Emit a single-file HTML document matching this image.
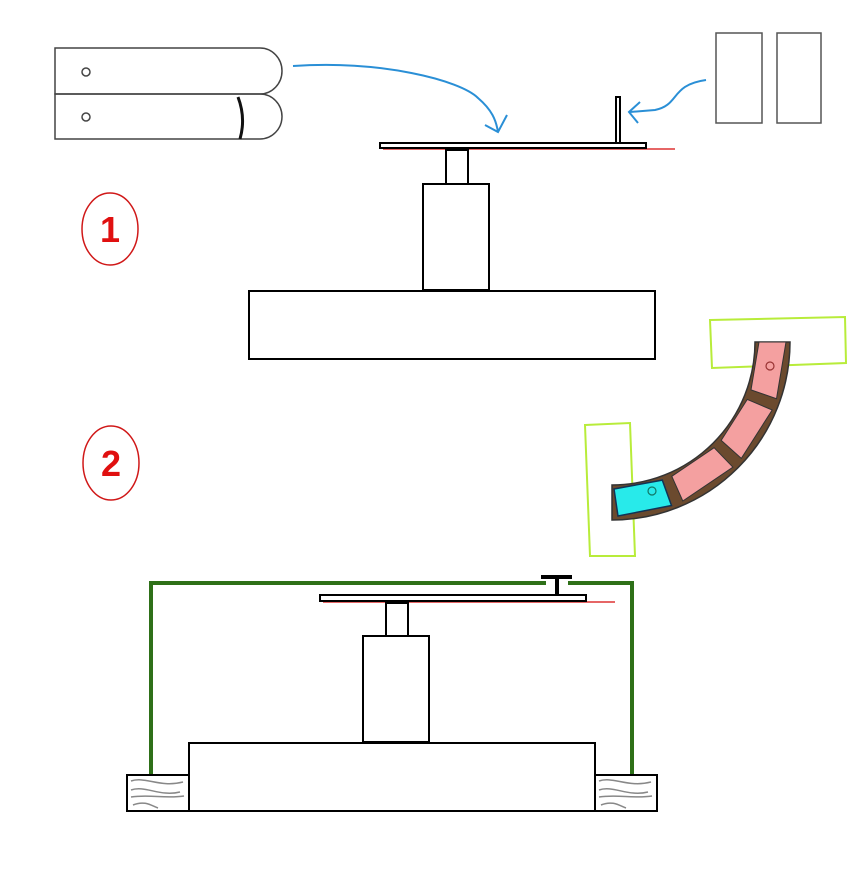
<!DOCTYPE html>
<html><head><style>html,body{margin:0;padding:0;background:#fff}svg{display:block}</style></head>
<body>
<svg width="854" height="869" viewBox="0 0 854 869" xmlns="http://www.w3.org/2000/svg">
<g fill="none" stroke="#444" stroke-width="1.5">
<path d="M55,48 H260 A22,23 0 0 1 260,94 H55 Z"/>
<path d="M55,94 H260 A22,22.5 0 0 1 260,139 H55 Z"/>
<circle cx="86" cy="72" r="4"/><circle cx="86" cy="117" r="4"/>
</g>
<path d="M238,97 Q246,118 240,139" stroke="#111" stroke-width="3" fill="none"/>
<g stroke="#2a8fd6" stroke-width="2" fill="none">
<path d="M293,66 C380,60 460,80 478,98 C492,110 496,120 498,132"/>
<path d="M485,125 L498,132 L507,115"/>
<path d="M706,80 C670,85 680,105 655,110 L630,112"/>
<path d="M640,102 L629,112 L638,123"/>
</g>
<line x1="383" y1="149" x2="675" y2="149" stroke="#d33" stroke-width="1.5"/>
<g fill="#fff" stroke="#000" stroke-width="2">
<rect x="380" y="143" width="266" height="5"/>
<rect x="616" y="97" width="4" height="46"/>
<rect x="446" y="150" width="22" height="34"/>
<rect x="423" y="184" width="66" height="106"/>
<rect x="249" y="291" width="406" height="68"/>
</g>
<g fill="#fff" stroke="#555" stroke-width="1.5">
<rect x="716" y="33" width="46" height="90"/>
<rect x="777" y="33" width="44" height="90"/>
</g>
<g fill="none" stroke="#d01818" stroke-width="1.5">
<ellipse cx="110" cy="229" rx="28" ry="36"/>
<ellipse cx="111" cy="463" rx="28" ry="37"/>
</g>
<g fill="#e01010" font-family="Liberation Sans, sans-serif" font-weight="bold" font-size="36" text-anchor="middle">
<text x="110" y="242">1</text><text x="111" y="476">2</text>
</g>
<g fill="none" stroke="#b8ec3a" stroke-width="2">
<polygon points="710,320 845,317 846,363 712,368"/>
<polygon points="585,425 630,423 635,556 590,556"/>
</g>
<path d="M790,342 A178,178 0 0 1 612,520 L612,485 A143,143 0 0 0 755,342 Z" fill="#6b4a2e" stroke="#333" stroke-width="1.5"/>
<g fill="#f4a0a0" stroke="#333" stroke-width="1">
<polygon points="759,342 786,342 776.5,398.7 751,389.9"/>
<polygon points="747.3,399.4 772.2,410 741.3,458.4 721.2,440.4"/>
<polygon points="714.1,447.7 732.9,467.2 682.8,501 671.8,476.3"/>
</g>
<polygon points="662.3,480.1 671.5,505.5 618,516 614,489" fill="#28eaea" stroke="#135" stroke-width="1.5"/>
<circle cx="770" cy="366" r="4" fill="none" stroke="#933" stroke-width="1.2"/>
<circle cx="652" cy="491" r="4" fill="none" stroke="#176" stroke-width="1.2"/>
<g stroke="#2e7018" stroke-width="4" fill="none">
<path d="M151,775 V583 H546"/>
<path d="M568,583 H632 V775"/>
</g>
<rect x="541" y="575" width="31" height="4" fill="#000"/>
<rect x="555" y="579" width="4" height="15" fill="#000"/>
<line x1="323" y1="602" x2="615" y2="602" stroke="#d33" stroke-width="1.5"/>
<g fill="#fff" stroke="#000" stroke-width="2">
<rect x="320" y="595" width="266" height="6"/>
<rect x="386" y="603" width="22" height="33"/>
<rect x="363" y="636" width="66" height="106"/>
<rect x="189" y="743" width="406" height="68"/>
<rect x="127" y="775" width="62" height="36"/>
<rect x="595" y="775" width="62" height="36"/>
</g>
<g stroke="#888" stroke-width="1.5" fill="none">
<path d="M131,781 C145,776 160,788 183,782"/><path d="M131,790 C145,785 160,797 180,792"/><path d="M131,797 C150,794 165,799 184,796"/><path d="M133,805 C145,800 152,806 158,808"/>
<path d="M599,781 C613,776 628,788 651,782"/><path d="M599,790 C613,785 628,797 648,792"/><path d="M599,797 C618,794 633,799 652,796"/><path d="M601,805 C613,800 620,806 626,808"/>
</g>
</svg>
</body></html>
